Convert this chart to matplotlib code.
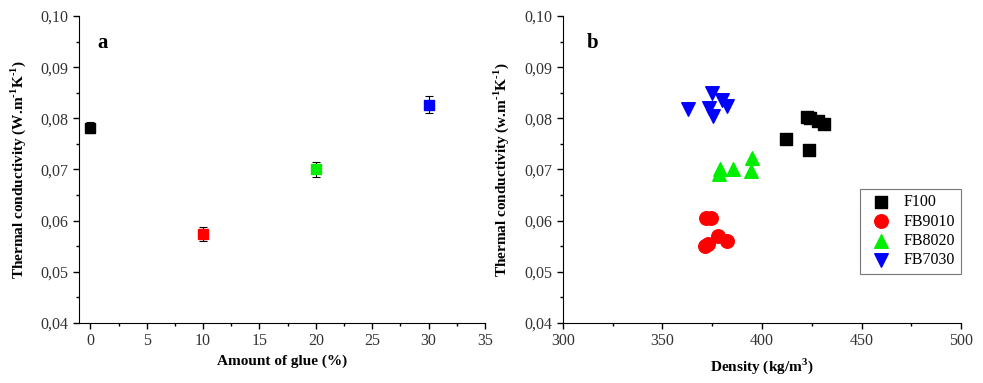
import numpy as np
from matplotlib import pyplot as plt
from matplotlib.ticker import MultipleLocator, FuncFormatter

plt.rcParams['font.family'] = ['Liberation Serif', 'DejaVu Serif']
plt.rcParams['mathtext.fontset'] = 'custom'
plt.rcParams['mathtext.rm'] = 'Liberation Serif:bold'
plt.rcParams['mathtext.bf'] = 'Liberation Serif:bold'

# panel a
glue = [0, 10, 20, 30]
glue_k = [0.0782, 0.0574, 0.0700, 0.0827]
glue_err = [0.0010, 0.0014, 0.0015, 0.0017]
glue_colors = ['black', 'red', '#00ee00', 'blue']

# panel b
f100_d = [412.1, 423.8, 422.4, 424.1, 428.3, 431.3]
f100_k = [0.0760, 0.0739, 0.0803, 0.0800, 0.0794, 0.0789]
fb9010_d = [371.7, 374.4, 378.0, 382.3, 371.4, 373.0]
fb9010_k = [0.0605, 0.0605, 0.0569, 0.0560, 0.0550, 0.0554]
fb8020_d = [378.9, 378.4, 385.4, 394.8, 394.5]
fb8020_k = [0.0700, 0.0692, 0.0700, 0.0722, 0.0697]
fb7030_d = [363.0, 374.7, 379.7, 382.5, 373.5, 375.2]
fb7030_k = [0.0818, 0.0849, 0.0836, 0.0824, 0.0820, 0.0805]

comma = FuncFormatter(lambda v, p: f'{v:.2f}'.replace('.', ','))


def style_axis(ax):
    for s in ['top', 'right']:
        ax.spines[s].set_visible(False)
    ax.set_ylim(0.04, 0.10)
    ax.yaxis.set_major_locator(MultipleLocator(0.01))
    ax.yaxis.set_minor_locator(MultipleLocator(0.005))
    ax.yaxis.set_major_formatter(comma)
    ax.tick_params(which='major', direction='out', length=4, width=1,
                   labelsize=11.5, colors='black', labelcolor='#333333')
    ax.tick_params(which='minor', direction='out', length=2.5, width=1)


fig = plt.figure(figsize=(9.83, 3.83), dpi=100)
ax1 = fig.add_axes([0.0804, 0.157, 0.413, 0.801])
ax2 = fig.add_axes([0.5727, 0.157, 0.405, 0.801])

for x, y, e, c in zip(glue, glue_k, glue_err, glue_colors):
    ax1.errorbar(x, y, yerr=e, fmt='s', color=c, ecolor='black', elinewidth=0.8,
                 capsize=3, capthick=0.8, markersize=7.5, zorder=3)
ax1.set_xlim(-1, 35)
ax1.xaxis.set_major_locator(MultipleLocator(5))
ax1.xaxis.set_minor_locator(MultipleLocator(2.5))
style_axis(ax1)
ax1.set_xlabel('Amount of glue (%)', fontweight='bold', fontsize=11, labelpad=4)
ax1.set_ylabel('Thermal conductivity (W.m$^{\\text{-1}}$K$^{\\text{-1}}$)',
               fontweight='bold', fontsize=11, labelpad=9)
ax1.text(0.045, 0.895, 'a', transform=ax1.transAxes, fontsize=15, fontweight='bold')

ax2.scatter(f100_d, f100_k, marker='s', s=70, color='black', label='F100', zorder=3)
ax2.scatter(fb9010_d, fb9010_k, marker='o', s=95, color='red', label='FB9010', zorder=3)
ax2.scatter(fb8020_d, fb8020_k, marker='^', s=95, color='#00ee00', label='FB8020', zorder=3)
ax2.scatter(fb7030_d, fb7030_k, marker='v', s=95, color='blue', label='FB7030', zorder=3)
ax2.set_xlim(300, 500)
ax2.xaxis.set_major_locator(MultipleLocator(50))
ax2.xaxis.set_minor_locator(MultipleLocator(25))
style_axis(ax2)
ax2.set_xlabel('Density (kg/m$^{\\text{3}}$)', fontweight='bold', fontsize=11, labelpad=5)
ax2.set_ylabel('Thermal conductivity (w.m$^{\\text{-1}}$K$^{\\text{-1}}$)',
               fontweight='bold', fontsize=11, labelpad=10)
ax2.text(0.06, 0.895, 'b', transform=ax2.transAxes, fontsize=15, fontweight='bold')
leg = ax2.legend(loc='upper left', bbox_to_anchor=(0.745, 0.437), frameon=True,
                 fancybox=False, edgecolor='#555555', fontsize=11.5,
                 handletextpad=0.4, borderpad=0.35, labelspacing=0.2,
                 borderaxespad=0)
leg.get_frame().set_linewidth(0.8)

fig.savefig('out.png', dpi=100)
